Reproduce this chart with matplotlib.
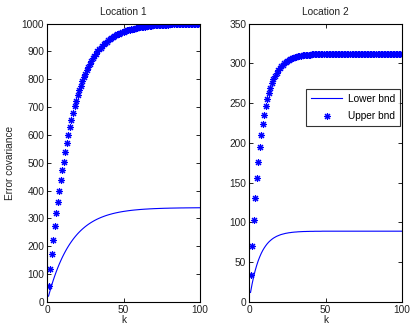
import matplotlib
matplotlib.use("Agg")
import matplotlib.pyplot as plt
import numpy as np

plt.rcParams['font.family'] = ['Liberation Sans', 'DejaVu Sans']

k = list(range(1, 101))

upper_1 = [57, 118, 171, 224, 272, 319, 360, 400, 437, 473,
           504, 539, 571, 601, 629, 655, 679, 702, 722, 742,
           760, 777, 792, 807, 820, 833, 845, 856, 866, 875,
           884, 892, 900, 907, 913, 919, 925, 930, 935, 940,
           944, 948, 951, 955, 958, 961, 964, 966, 969, 971,
           973, 975, 976, 978, 980, 981, 982, 984, 985, 986,
           987, 988, 989, 989, 990, 991, 991, 992, 993, 993,
           994, 994, 994, 995, 995, 996, 996, 996, 996, 997,
           997, 997, 997, 998, 998, 998, 998, 998, 998, 998,
           999, 999, 999, 999, 999, 999, 999, 999, 999, 999]

lower_1 = [21.0, 40.7, 59.2, 76.6, 92.8, 108.1, 122.4, 135.8, 148.4, 160.3,
           171.3, 181.7, 191.5, 200.6, 209.2, 217.2, 224.8, 231.9, 238.5, 244.8,
           250.6, 256.1, 261.2, 266.0, 270.6, 274.8, 278.8, 282.5, 286.0, 289.3,
           292.4, 295.3, 298.0, 300.5, 302.9, 305.1, 307.2, 309.2, 311.1, 312.8,
           314.4, 315.9, 317.4, 318.7, 320.0, 321.1, 322.3, 323.3, 324.3, 325.2,
           326.0, 326.8, 327.6, 328.3, 329.0, 329.6, 330.2, 330.7, 331.2, 331.7,
           332.2, 332.6, 333.0, 333.4, 333.7, 334.0, 334.4, 334.6, 334.9, 335.2,
           335.4, 335.6, 335.8, 336.0, 336.2, 336.4, 336.6, 336.7, 336.8, 337.0,
           337.1, 337.2, 337.3, 337.4, 337.5, 337.6, 337.7, 337.8, 337.8, 337.9,
           338.0, 338.0, 338.1, 338.1, 338.2, 338.2, 338.3, 338.3, 338.4, 338.4]

upper_2 = [34, 71, 103.5, 131, 155.5, 176, 195, 210, 224, 235.6,
           246.5, 255, 263, 269.5, 275, 280, 284, 288, 291, 294,
           296.4, 298.4, 300.2, 301.8, 303.2, 304.3, 305.4, 306.2, 307, 307.7,
           308.2, 308.7, 309.2, 309.5, 309.9, 310.1, 310.4, 310.6, 310.8, 311,
           311.1, 311.2, 311.3, 311.4, 311.5, 311.6, 311.6, 311.7, 311.7, 311.8,
           311.8, 311.8, 311.9, 311.9, 311.9, 311.9, 312, 312, 312, 312,
           312, 312, 312, 312, 312, 312, 312, 312, 312, 312,
           312, 312, 312, 312, 312, 312, 312, 312, 312, 312,
           312, 312, 312, 312, 312, 312, 312, 312, 312, 312,
           312, 312, 312, 312, 312, 312, 312, 312, 312, 312]

lower_2 = [12.0, 22.4, 31.4, 39.2, 45.9, 51.7, 56.7, 61.1, 64.9, 68.1,
           70.9, 73.4, 75.5, 77.3, 78.9, 80.3, 81.4, 82.5, 83.3, 84.1,
           84.8, 85.3, 85.8, 86.3, 86.6, 87.0, 87.2, 87.5, 87.7, 87.9,
           88.0, 88.2, 88.3, 88.4, 88.5, 88.6, 88.6, 88.7, 88.7, 88.8,
           88.8, 88.8, 88.9, 88.9, 88.9, 88.9, 88.9, 89.0, 89.0, 89.0,
           89.0, 89.0, 89.0, 89.0, 89.0, 89.0, 89.0, 89.0, 89.0, 89.0,
           89.0, 89.0, 89.0, 89.0, 89.0, 89.0, 89.0, 89.0, 89.0, 89.0,
           89.0, 89.0, 89.0, 89.0, 89.0, 89.0, 89.0, 89.0, 89.0, 89.0,
           89.0, 89.0, 89.0, 89.0, 89.0, 89.0, 89.0, 89.0, 89.0, 89.0,
           89.0, 89.0, 89.0, 89.0, 89.0, 89.0, 89.0, 89.0, 89.0, 89.0]

titles = ["Location 1", "Location 2"]
ylims = [(0, 1000), (0, 350)]
ysteps = [100, 50]
xticks = [0, 50, 100]

fig = plt.figure(figsize=(4.11, 3.25), dpi=100)
ax1 = fig.add_axes([47/411, 23/325, 153/411, 278.5/325])
ax2 = fig.add_axes([249/411, 23/325, 153/411, 278.5/325])

fs = 7.3
blue = (0, 0, 1)
star = (8, 2, 0)

for ax, up, lo, t, yl, ys in [(ax1, upper_1, lower_1, titles[0], ylims[0], ysteps[0]),
                               (ax2, upper_2, lower_2, titles[1], ylims[1], ysteps[1])]:
    ax.plot(k, lo, '-', color=blue, lw=0.8, label='Lower bnd')
    ax.plot(k, up, linestyle='none', marker=star, markersize=5.0, color=blue,
            markeredgewidth=0.8, label='Upper bnd')
    ax.set_xlim(0, 100)
    ax.set_ylim(*yl)
    ax.set_xticks(xticks)
    ax.set_yticks(np.arange(yl[0], yl[1] + 1, ys))
    ax.tick_params(direction='in', top=True, right=True, length=3, width=0.6,
                   labelsize=fs, pad=2, labelcolor='#222222')
    for s in ax.spines.values():
        s.set_linewidth(0.8)
    ax.set_title(t, fontsize=fs, pad=6, color='#222222')
    ax.set_xlabel('k', fontsize=fs, labelpad=0, color='#222222')

ax1.set_ylabel('Error covariance', fontsize=fs, labelpad=5, color='#222222')

leg = ax2.legend(loc='upper right', bbox_to_anchor=(0.995, 0.77), fontsize=fs,
                 frameon=True, fancybox=False, edgecolor='black',
                 handlelength=3.0, borderpad=0.5, labelspacing=0.75,
                 handletextpad=0.6, borderaxespad=0.1)
leg.get_frame().set_linewidth(0.8)

fig.savefig('out.png', dpi=100)
